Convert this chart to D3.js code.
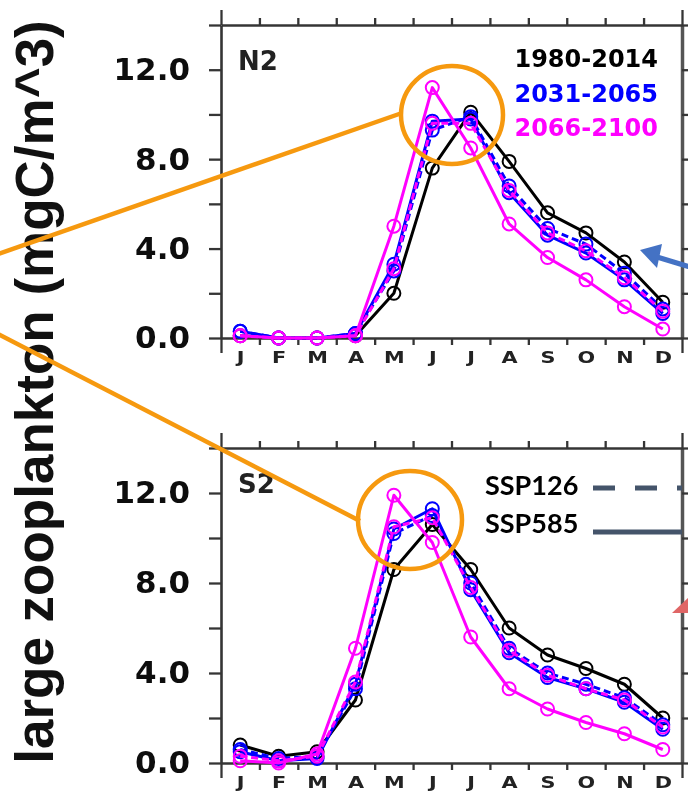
<!DOCTYPE html>
<html><head><meta charset="utf-8">
<script src="https://cdn.jsdelivr.net/npm/d3@7/dist/d3.min.js"></script>
<style>body{margin:0;background:#fff}svg{display:block}</style>
</head><body>
<svg id="c" width="688" height="792"></svg>
<script>
// ---------- data ----------
const months = ["J","F","M","A","M","J","J","A","S","O","N","D"];
const yTickValues = [0,2,4,6,8,10,12,14];
const periods = ["1980-2014","2031-2065","2066-2100"];
const periodColors = ["#000000","#0000ff","#ff00ff"];
const scenarios = ["SSP126","SSP585"];
const panelNames = ["N2","S2"];
const yTitle = "large zooplankton (mgC/m^3)";

// N2 panel
const n2_1980_2014       = [0.1, 0.0, 0.0, 0.1, 2.0, 7.6, 10.1, 7.9, 5.6, 4.7, 3.4, 1.6];
const n2_2031_2065_ssp126 = [0.3, 0.0, 0.0, 0.2, 3.0, 9.3, 9.9, 6.8, 4.9, 4.2, 2.9, 1.3];
const n2_2031_2065_ssp585 = [0.3, 0.0, 0.0, 0.2, 3.3, 9.7, 9.8, 6.5, 4.6, 3.8, 2.6, 1.1];
const n2_2066_2100_ssp126 = [0.1, 0.0, 0.0, 0.1, 3.1, 9.6, 9.6, 6.6, 4.7, 3.9, 2.7, 1.2];
const n2_2066_2100_ssp585 = [0.1, 0.0, 0.0, 0.1, 5.0, 11.2, 8.5, 5.1, 3.6, 2.6, 1.4, 0.4];
// S2 panel
const s2_1980_2014       = [0.8, 0.3, 0.5, 2.8, 8.6, 10.6, 8.6, 6.0, 4.8, 4.2, 3.5, 2.0];
const s2_2031_2065_ssp126 = [0.6, 0.2, 0.3, 3.3, 10.2, 11.0, 8.0, 5.1, 4.0, 3.5, 2.9, 1.7];
const s2_2031_2065_ssp585 = [0.5, 0.1, 0.2, 3.5, 10.4, 11.3, 7.7, 4.9, 3.8, 3.3, 2.7, 1.5];
const s2_2066_2100_ssp126 = [0.3, 0.1, 0.3, 3.6, 10.5, 10.9, 7.8, 5.0, 3.9, 3.3, 2.8, 1.6];
const s2_2066_2100_ssp585 = [0.1, 0.0, 0.4, 5.1, 11.9, 9.8, 5.6, 3.3, 2.4, 1.8, 1.3, 0.6];

const panels = [
  {name: panelNames[0], top: 25, bottom: 338, series: [
    {p:0, s:1, v:n2_1980_2014},
    {p:1, s:0, v:n2_2031_2065_ssp126},
    {p:1, s:1, v:n2_2031_2065_ssp585},
    {p:2, s:0, v:n2_2066_2100_ssp126},
    {p:2, s:1, v:n2_2066_2100_ssp585}]},
  {name: panelNames[1], top: 448, bottom: 763, series: [
    {p:0, s:1, v:s2_1980_2014},
    {p:1, s:0, v:s2_2031_2065_ssp126},
    {p:1, s:1, v:s2_2031_2065_ssp585},
    {p:2, s:0, v:s2_2066_2100_ssp126},
    {p:2, s:1, v:s2_2066_2100_ssp585}]}
];

// ---------- drawing ----------
const svg = d3.select("#c");
const defs = svg.append("defs");
defs.append("filter").attr("id","soft").attr("x","-5%").attr("y","-5%").attr("width","110%").attr("height","110%")
  .append("feGaussianBlur").attr("stdDeviation",0.75);

const x = d3.scaleLinear().domain([0.5, months.length + 0.5]).range([221, 682]);
const bounds = d3.range(0.5, months.length + 1, 1);
const frameColor = "#353535";

panels.forEach((P, pi) => {
  const y = d3.scaleLinear().domain([0, 14]).range([P.bottom, P.top]);
  const g = svg.append("g").attr("filter","url(#soft)");

  const la = g.append("g").attr("transform","translate(221,0)")
    .call(d3.axisLeft(y).tickValues(yTickValues).tickSize(12).tickSizeOuter(0).tickPadding(19)
      .tickFormat(d => (d % 4 === 0 && d < 14) ? d.toFixed(1) : ""));
  const ra = g.append("g").attr("transform","translate(682,0)")
    .call(d3.axisRight(y).tickValues(yTickValues).tickSize(8).tickSizeOuter(0).tickFormat(""));
  const ta = g.append("g").attr("transform",`translate(0,${P.top})`)
    .call(d3.axisTop(x).tickValues(bounds).tickSize(7).tickSizeOuter(0).tickFormat(""));
  const ba = g.append("g").attr("transform",`translate(0,${P.bottom})`)
    .call(d3.axisBottom(x).tickValues(bounds).tickSize(7).tickSizeOuter(0).tickFormat(""));
  ta.selectAll(".tick line").filter(d => d === bounds[0] || d === bounds[bounds.length-1]).attr("y2", -15);
  ba.selectAll(".tick line").filter(d => d === bounds[0] || d === bounds[bounds.length-1]).attr("y2", 15);
  const ma = g.append("g").attr("transform",`translate(0,${P.bottom})`)
    .call(d3.axisBottom(x).tickValues(d3.range(1, months.length + 1)).tickSize(0).tickPadding(14)
      .tickFormat((d,i) => months[i]));
  ma.select(".domain").remove();
  ma.selectAll("text").attr("font-family","DejaVu Sans").attr("font-weight","bold")
    .attr("font-size",16).attr("fill","#222").attr("transform","scale(1.3,1)");

  [la, ra, ta, ba].forEach(a => {
    a.selectAll(".domain").attr("stroke", frameColor).attr("stroke-width", 2.6);
    a.selectAll(".tick line").attr("stroke", frameColor).attr("stroke-width", 2.3);
  });
  ra.select(".domain").attr("stroke","#555").attr("stroke-width",3.5);
  la.selectAll("text").attr("font-family","DejaVu Sans").attr("font-weight","bold")
    .attr("font-size",31).attr("fill","#111");

  g.append("text").attr("x", 238).attr("y", P.top + 45)
    .attr("font-family","DejaVu Sans").attr("font-weight","bold").attr("font-size",26)
    .attr("fill","#222").text(P.name);

  const line = d3.line().x((d,i) => x(i + 1)).y(d => y(d));
  P.series.forEach(S => {
    const col = periodColors[S.p];
    const sg = g.append("g");
    sg.append("path").attr("d", line(S.v)).attr("fill","none").attr("stroke", col)
      .attr("stroke-width", 3).attr("stroke-linejoin","round")
      .attr("stroke-dasharray", scenarios[S.s] === "SSP126" ? "7,4" : null);
    sg.selectAll("circle").data(S.v).join("circle")
      .attr("cx", (d,i) => x(i + 1)).attr("cy", d => y(d)).attr("r", 6.5)
      .attr("fill","none").attr("stroke", col).attr("stroke-width", 2);
  });

  if (pi === 0) {
    periods.forEach((t, i) => {
      g.append("text").attr("x", 658).attr("y", P.top + 42 + i * 34.5)
        .attr("text-anchor","end").attr("font-family","DejaVu Sans").attr("font-weight","bold")
        .attr("font-size",24).attr("fill", periodColors[i]).text(t);
    });
  }
});

svg.append("text").attr("transform","translate(53,392) rotate(-90)")
  .attr("text-anchor","middle").attr("font-family","Liberation Sans, Arial, sans-serif")
  .attr("font-weight","bold").attr("font-size",53).attr("fill","#111").text(yTitle);

const slg = svg.append("g");
scenarios.forEach((t, i) => {
  slg.append("text").attr("x", 485).attr("y", 495 + i * 37.5)
    .attr("font-family","Lato, sans-serif").attr("font-weight","bold").attr("font-size",27)
    .attr("fill","#000").text(t);
  slg.append("line").attr("x1", 593).attr("x2", 682).attr("y1", 488 + i * 44).attr("y2", 488 + i * 44)
    .attr("stroke","#44546a").attr("stroke-width",5)
    .attr("stroke-dasharray", t === "SSP126" ? "22,20" : null);
});

const orange = "#f6990f";
const ann = svg.append("g").attr("fill","none").attr("stroke", orange).attr("stroke-width", 4.5);
ann.append("ellipse").attr("cx", 452).attr("cy", 115).attr("rx", 51).attr("ry", 49);
ann.append("ellipse").attr("cx", 410).attr("cy", 520).attr("rx", 52).attr("ry", 49);
ann.append("line").attr("x1", -2).attr("y1", 254).attr("x2", 402).attr("y2", 113);
ann.append("line").attr("x1", -2).attr("y1", 334).attr("x2", 360).attr("y2", 521);

const blue = "#4472c4";
svg.append("line").attr("x1", 657).attr("y1", 257).attr("x2", 690).attr("y2", 267)
  .attr("stroke", blue).attr("stroke-width", 5);
svg.append("polygon").attr("points","640,250 662,244 657,268").attr("fill", blue);
svg.append("polygon").attr("points","672,613 689,613 689,597").attr("fill","#e06666");
</script>
</body></html>
